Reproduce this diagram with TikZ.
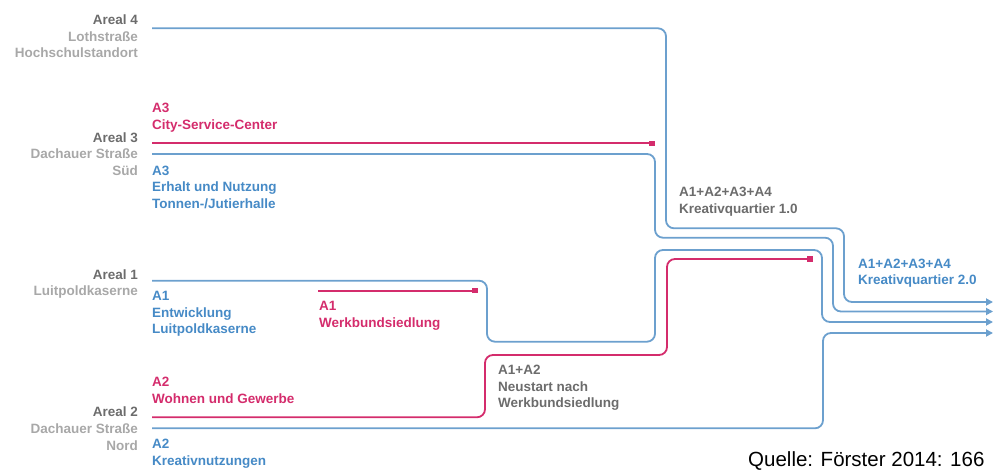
\documentclass[tikz,border=0pt]{standalone}
\usepackage{fontspec}
\setmainfont{Liberation Sans}
\usetikzlibrary{arrows.meta}
\definecolor{lblue}{RGB}{108,160,206}
\definecolor{tblue}{RGB}{70,138,198}
\definecolor{lred}{RGB}{212,44,108}
\definecolor{dgray}{RGB}{108,108,108}
\definecolor{lgray}{RGB}{168,168,168}
\tikzset{
  lbl/.style={inner sep=0pt, font=\bfseries\fontsize{13.5}{16.6}\selectfont},
  areal/.style={lbl, anchor=base east, align=right, text=lgray},
  bluetxt/.style={lbl, anchor=base west, align=left, text=tblue},
  redtxt/.style={lbl, anchor=base west, align=left, text=lred},
  graytxt/.style={lbl, anchor=base west, align=left, text=dgray},
  bl/.style={draw=lblue, line width=1.8pt, rounded corners=8pt},
  rl/.style={draw=lred, line width=1.8pt, rounded corners=8pt},
  arr/.style={-{Triangle[length=7pt,width=7pt]}},
  sq/.style={fill=lred, minimum size=5.5pt, inner sep=0pt, draw=none}
}
\begin{document}
\begin{tikzpicture}[x=1pt,y=-1pt]
\useasboundingbox (0,0) rectangle (997,470);

% area labels (positions = baseline of the last line)
\node[areal] (a4) at (138,58) {{\color{dgray}Areal 4}\\Lothstraße\\Hochschulstandort};
\node[areal] (a3) at (138,175.5) {{\color{dgray}Areal 3}\\Dachauer Straße\\Süd};
\node[areal] (a1) at (138,296) {{\color{dgray}Areal 1}\\Luitpoldkaserne};
\node[areal] (a2) at (138,450) {{\color{dgray}Areal 2}\\Dachauer Straße\\Nord};

% project labels
\node[redtxt] (p3r) at (152,129.5) {A3\\City-Service-Center};
\node[bluetxt] (p3b) at (152,208.5) {A3\\Erhalt und Nutzung\\Tonnen-/Jutierhalle};
\node[bluetxt] (p1b) at (152,334) {A1\\Entwicklung\\Luitpoldkaserne};
\node[redtxt] (p1r) at (319,327.5) {A1\\Werkbundsiedlung};
\node[redtxt] (p2r) at (152,403.5) {A2\\Wohnen und Gewerbe};
\node[bluetxt] (p2b) at (152,465) {A2\\Kreativnutzungen};
\node[graytxt] (p12) at (498,408) {A1+A2\\Neustart nach\\Werkbundsiedlung};
\node[graytxt] (k1) at (679,213.5) {A1+A2+A3+A4\\Kreativquartier 1.0};
\node[bluetxt] (k2) at (858,285) {A1+A2+A3+A4\\Kreativquartier 2.0};
\node[inner sep=0pt, anchor=base west, font=\fontsize{20.5}{24}\selectfont] (src) at (748,466.5) {Quelle: Förster 2014: 166};

% start / end coordinates
\coordinate (s4) at (152,28.3);
\coordinate (s3r) at (152,143.3);
\coordinate (s3b) at (152,154);
\coordinate (s1b) at (152,280.7);
\coordinate (s1r) at (318,290.7);
\coordinate (s2r) at (152,417.3);
\coordinate (s2b) at (152,428.3);
\coordinate (t4) at (993,302);
\coordinate (t3) at (993,311.5);
\coordinate (t1) at (993,322);
\coordinate (t2) at (993,333);

% end squares
\node[sq] (q3) at (652,143.3) {};
\node[sq] (q1) at (475,290.7) {};
\node[sq] (q2) at (810,259) {};

% lines
\draw[bl,arr] (s4) -- (666,28.3) -- (666,228.3) -- (844,228.3) -- (844,302) -- (t4);
\draw[bl,arr] (s3b) -- (655,154) -- (655,237.7) -- (833,237.7) -- (833,311.5) -- (t3);
\draw[rl] (s3r) -- (q3.center);
\draw[bl,arr] (s1b) -- (487,280.7) -- (487,341.7) -- (655,341.7) -- (655,250) -- (822,250) -- (822,322) -- (t1);
\draw[rl] (s1r) -- (q1.center);
\draw[rl] (s2r) -- (485,417.3) -- (485,355) -- (667,355) -- (667,259) -- (q2.center);
\draw[bl,arr] (s2b) -- (823,428.3) -- (823,333) -- (t2);
\end{tikzpicture}
\end{document}
